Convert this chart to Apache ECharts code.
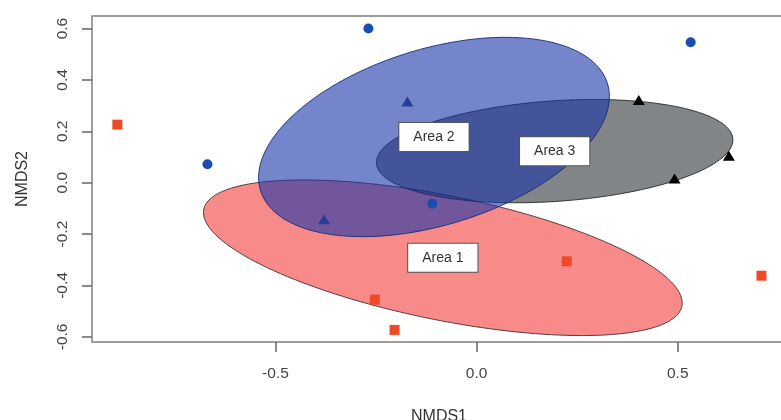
<!DOCTYPE html>
<html>
<head>
<meta charset="utf-8">
<script src="https://cdn.jsdelivr.net/npm/echarts@6/dist/echarts.min.js"></script>
<style>
  html, body { margin: 0; padding: 0; background: #fff; }
</style>
</head>
<body>
<div id="echars_main" style="width: 781px;height:420px;"></div>
<script>
// tick labels
var xTicks = [-0.5, 0, 0.5]
var yTicks = [-0.6, -0.4, -0.2, 0, 0.2, 0.4, 0.6]

// points (NMDS1, NMDS2)
var circleX = [-0.269, 0.532, -0.669, -0.110]
var circleY = [0.600, 0.547, 0.072, -0.082]
var squareX = [-0.893, -0.253, -0.204, 0.224, 0.708]
var squareY = [0.226, -0.455, -0.573, -0.306, -0.362]
var navyTriX = [-0.172, -0.379]
var navyTriY = [0.316, -0.142]
var blackTriX = [0.403, 0.627, 0.492]
var blackTriY = [0.322, 0.105, 0.016]

// ellipses: centre, half width, half height, phase (deg) of y against x
var areaNames = ['Area 1', 'Area 2', 'Area 3']
var areaCx = [-0.084, -0.106, 0.194]
var areaCy = [-0.292, 0.178, 0.123]
var areaRx = [0.595, 0.436, 0.443]
var areaRy = [0.303, 0.388, 0.201]
var areaPhase = [125.5, 66, 77.4]

var font = 'Liberation Sans, Arial, sans-serif'

function pairs(xs, ys) {
  return xs.map(function (x, i) { return [x, ys[i]] })
}

function ellipseSeries(i, fill, stroke, z) {
  return {
    type: 'custom',
    name: areaNames[i],
    data: [[areaCx[i], areaCy[i], areaRx[i], areaRy[i], areaPhase[i]]],
    encode: { x: 0, y: 1 },
    renderItem: function (params, api) {
      var cx = api.value(0), cy = api.value(1)
      var rx = api.value(2), ry = api.value(3)
      var ph = api.value(4) * Math.PI / 180
      var pts = []
      for (var k = 0; k < 160; k++) {
        var t = 2 * Math.PI * k / 160
        pts.push(api.coord([cx + rx * Math.cos(t), cy + ry * Math.cos(t + ph)]))
      }
      return {
        type: 'polygon',
        shape: { points: pts },
        style: { fill: fill, stroke: stroke, lineWidth: 1 }
      }
    },
    z: z
  }
}

var myChart = echarts.init(document.getElementById('echars_main'))

var option = {
  animation: false,
  backgroundColor: '#fff',
  grid: {
    show: true,
    left: 92, top: 16, right: -5, bottom: 78,
    outerBoundsMode: 'none',
    containLabel: false,
    borderColor: '#7b8080',
    borderWidth: 1.5
  },
  xAxis: {
    type: 'value',
    min: -0.956, max: 0.769,
    name: 'NMDS1',
    nameLocation: 'middle',
    nameGap: 67,
    nameTextStyle: { fontFamily: font, fontSize: 16, color: '#333' },
    axisLine: { show: false, onZero: false },
    splitLine: { show: false },
    axisTick: { show: true, length: 10, customValues: xTicks, lineStyle: { color: '#666', width: 1.5 } },
    axisLabel: {
      customValues: xTicks,
      margin: 24,
      fontFamily: font, fontSize: 15.5, color: '#444',
      formatter: function (v) { return v.toFixed(1) }
    }
  },
  yAxis: {
    type: 'value',
    min: -0.620, max: 0.649,
    name: 'NMDS2',
    nameLocation: 'middle',
    nameRotate: 90,
    nameGap: 61,
    nameTextStyle: { fontFamily: font, fontSize: 16, color: '#333' },
    axisLine: { show: false, onZero: false },
    splitLine: { show: false },
    axisTick: { show: true, length: 10, customValues: yTicks, lineStyle: { color: '#666', width: 1.5 } },
    axisLabel: {
      customValues: yTicks,
      rotate: 90,
      margin: 21,
      fontFamily: font, fontSize: 15.5, color: '#444',
      formatter: function (v) { return v.toFixed(1) }
    }
  },
  series: [
    ellipseSeries(0, 'rgba(240,0,0,0.46)', 'rgba(60,40,40,0.85)', 2),
    ellipseSeries(2, 'rgba(5,12,18,0.5)', 'rgba(30,30,30,0.85)', 3),
    ellipseSeries(1, 'rgba(25,52,168,0.6)', 'rgba(20,45,120,0.9)', 4),
    {
      type: 'scatter', name: 'circles', data: pairs(circleX, circleY),
      symbol: 'circle', symbolSize: 10, itemStyle: { color: '#1a4db0', opacity: 1 }, z: 10
    },
    {
      type: 'scatter', name: 'squares', data: pairs(squareX, squareY),
      symbol: 'rect', symbolSize: 10, itemStyle: { color: '#ef4a26', opacity: 1 }, z: 10
    },
    {
      type: 'scatter', name: 'navy triangles', data: pairs(navyTriX, navyTriY),
      symbol: 'triangle', symbolSize: [12, 10], itemStyle: { color: '#283c9c', opacity: 1 }, z: 10
    },
    {
      type: 'scatter', name: 'black triangles', data: pairs(blackTriX, blackTriY),
      symbol: 'triangle', symbolSize: [12, 10], itemStyle: { color: '#000', opacity: 1 }, z: 10
    },
    {
      // area labels sit on the ellipse centres
      type: 'scatter', name: 'labels',
      data: areaNames.map(function (n, i) { return { name: n, value: [areaCx[i], areaCy[i]] } }),
      symbolSize: 2,
      itemStyle: { color: 'rgba(0,0,0,0)', opacity: 1 },
      label: {
        show: true,
        position: 'inside',
        formatter: '{b}',
        fontFamily: font, fontSize: 14, lineHeight: 14, color: '#333',
        backgroundColor: '#fff',
        borderColor: '#555', borderWidth: 1,
        padding: [7, 14]
      },
      z: 20
    }
  ]
}

myChart.setOption(option)
</script>
</body>
</html>
